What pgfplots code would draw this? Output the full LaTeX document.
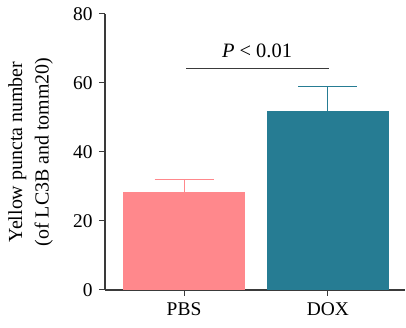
\documentclass[border=0pt]{standalone}
\usepackage{fontspec}
\setmainfont{Liberation Serif}
\usepackage{pgfplots}
\pgfplotsset{compat=1.18}
\definecolor{pbs}{HTML}{FF888C}
\definecolor{dox}{HTML}{267C93}
\definecolor{axc}{HTML}{3A3A3A}
\begin{document}
\fontsize{19}{23}\selectfont
\begin{tikzpicture}
\begin{axis}[name=ax, scale only axis, width=300bp, height=276bp,
  xmin=-0.549, xmax=1.535, ymin=0, ymax=80,
  axis x line*=bottom, axis y line*=left,
  ytick={0,20,40,60,80}, xtick={0,1}, xticklabels={PBS,DOX},
  tick align=outside, major tick length=6bp,
  tick style={axc, line width=1pt},
  axis line style={axc, line width=1.2pt},
  /pgf/number format/assume math mode=true,
  ticklabel style={font=\fontsize{19.5}{23}\selectfont},
  ylabel style={at={(axis description cs:-0.1733,0.5)}, anchor=south, inner sep=0pt,
    align=center, font=\fontsize{20}{26.5}\selectfont},
  ylabel={Yellow puncta number\\(of LC3B and tomm20)},
  clip=false]
\addplot[ybar, bar shift=0pt, bar width=122bp, fill=pbs, draw=none,
  error bars/.cd, y dir=plus, y explicit,
  error bar style={color=pbs, line width=1pt},
  error mark options={color=pbs, mark size=29.5bp, line width=1pt, rotate=90}]
  coordinates {(0,28.3) +- (0,3.8)};
\addplot[ybar, bar shift=0pt, bar width=122bp, fill=dox, draw=none,
  error bars/.cd, y dir=plus, y explicit,
  error bar style={color=dox, line width=1pt},
  error mark options={color=dox, mark size=29.5bp, line width=1pt, rotate=90}]
  coordinates {(1,51.9) +- (0,7.0)};
\draw[axc, line width=1pt] (axis cs:0.014,64.1) -- (axis cs:1.007,64.1);
\node[anchor=base, font=\fontsize{20.5}{24}\selectfont] at (axis cs:0.507,67.3) {\textit{P} < 0.01};
\end{axis}
\pgfresetboundingbox
\path ([xshift=-105bp,yshift=-38bp]ax.south west) rectangle ([xshift=1bp,yshift=14bp]ax.north east);
\end{tikzpicture}
\end{document}
